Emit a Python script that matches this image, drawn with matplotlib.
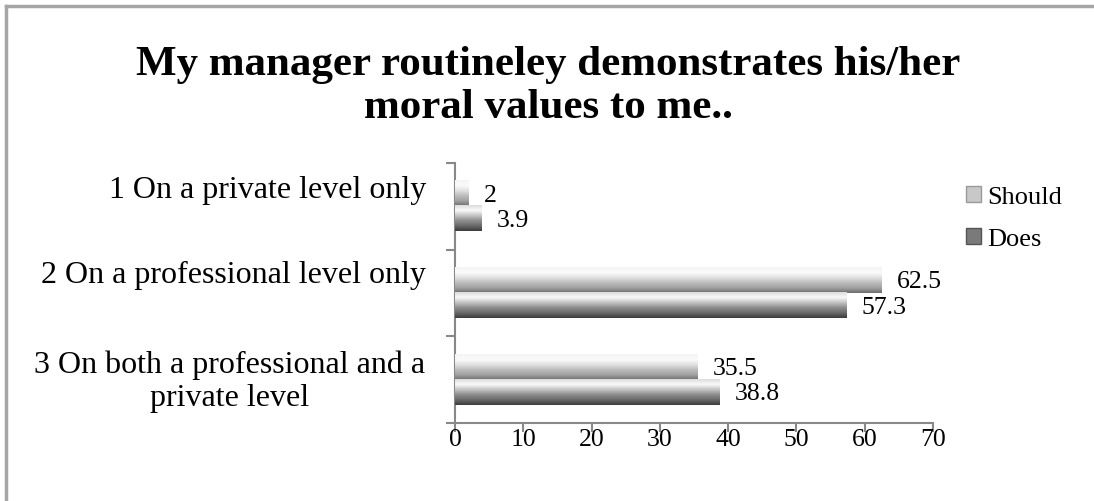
import numpy as np
import matplotlib
matplotlib.use('Agg')
import matplotlib.pyplot as plt
import matplotlib.transforms as mtrans
from matplotlib.colors import LinearSegmentedColormap
from matplotlib.lines import Line2D
from matplotlib.patches import Patch

plt.rcParams['font.family'] = ['Liberation Serif', 'DejaVu Serif']

categories = ['1 On a private level only',
              '2 On a professional level only',
              '3 On both a professional and a\nprivate level']
should = [2, 62.5, 35.5]
does = [3.9, 57.3, 38.8]
xticks = [0, 10, 20, 30, 40, 50, 60, 70]

# gradients for the bars (top -> bottom)
cm_should = LinearSegmentedColormap.from_list(
    'should', ['#f4f4f4', '#fbfbfb', '#e2e2e2', '#bdbdbd', '#a2a2a2', '#6e6e6e'])
cm_does = LinearSegmentedColormap.from_list(
    'does', ['#dcdcdc', '#fafafa', '#c4c4c4', '#8e8e8e', '#6a6a6a', '#3c3c3c'])

fig = plt.figure(figsize=(10.94, 5.02), dpi=100)
ax = fig.add_axes([455/1094, (502-424)/502, 478/1094, 260/502])

y = np.arange(len(categories))
bh = 0.29
b1 = ax.barh(y - 0.145, should, height=bh, color='#cccccc', zorder=2)
b2 = ax.barh(y + 0.145, does, height=bh, color='#888888', zorder=2)

grad = np.linspace(0, 1, 64).reshape(-1, 1)
for bars, cm in ((b1, cm_should), (b2, cm_does)):
    for p in bars:
        x0, y0 = p.get_x(), p.get_y()
        w, h = p.get_width(), p.get_height()
        ax.imshow(grad, cmap=cm, aspect='auto', interpolation='bilinear',
                  extent=[x0, x0 + w, y0 + h, y0], zorder=3)

for bars, vals in ((b1, should), (b2, does)):
    for p, v in zip(bars, vals):
        ax.annotate('%g' % v, (p.get_x() + p.get_width(), p.get_y() + p.get_height()/2),
                    xytext=(15, -1), textcoords='offset pixels',
                    va='center', ha='left', fontsize=18.5)

ax.set_xlim(0, 70)
ax.set_ylim(2.5, -0.5)
ax.set_xticks(xticks)
ax.set_xticklabels([str(t) for t in xticks], fontsize=18.5)
ax.set_yticks([-0.5, 0.5, 1.5, 2.5])
ax.set_yticklabels([])
ax.set_yticks(y, minor=True)
ax.set_yticklabels(categories, minor=True, fontsize=23, ha='right',
                   multialignment='center', linespacing=1.16)
ax.tick_params(axis='y', which='minor', length=0, pad=21)
ax.tick_params(axis='both', which='major', length=6.5, width=1.5, color='#888888')
ax.tick_params(axis='x', pad=-3)

# shift category labels (Excel places them above the band centre)
shifts = [(0, 20), (0, 22), (-1, 4)]
for lab, (dx, dy) in zip(ax.get_yticklabels(minor=True), shifts):
    lab.set_transform(lab.get_transform() + mtrans.ScaledTranslation(dx/100, dy/100, fig.dpi_scale_trans))

for s in ['top', 'right']:
    ax.spines[s].set_visible(False)
for s in ['left', 'bottom']:
    ax.spines[s].set_color('#888888')
    ax.spines[s].set_linewidth(1.5)

fig.suptitle('My manager routineley demonstrates his/her\nmoral values to me..',
             x=548/1094, y=1 - 46/502, va='top', fontsize=31, fontweight='bold',
             linespacing=1.18)

handles = [Patch(facecolor='#c8c8c8', edgecolor='#9a9a9a'),
           Patch(facecolor='#7a7a7a', edgecolor='#555555')]
fig.legend(handles, ['Should', 'Does'], loc='upper left',
           bbox_to_anchor=(966/1094, 1 - 187/502), frameon=False, fontsize=19,
           handlelength=0.55, handleheight=0.55, handletextpad=0.25, labelspacing=0.75,
           borderaxespad=0, borderpad=0)

# outer frame (top and left edges only visible)
fig.add_artist(Line2D([6/1094, 1], [1 - 7/502, 1 - 7/502], color='#a6a6a6', lw=2.5))
fig.add_artist(Line2D([6/1094, 6/1094], [0, 1 - 7/502], color='#a6a6a6', lw=2.5))

fig.savefig('out.png', dpi=100)
